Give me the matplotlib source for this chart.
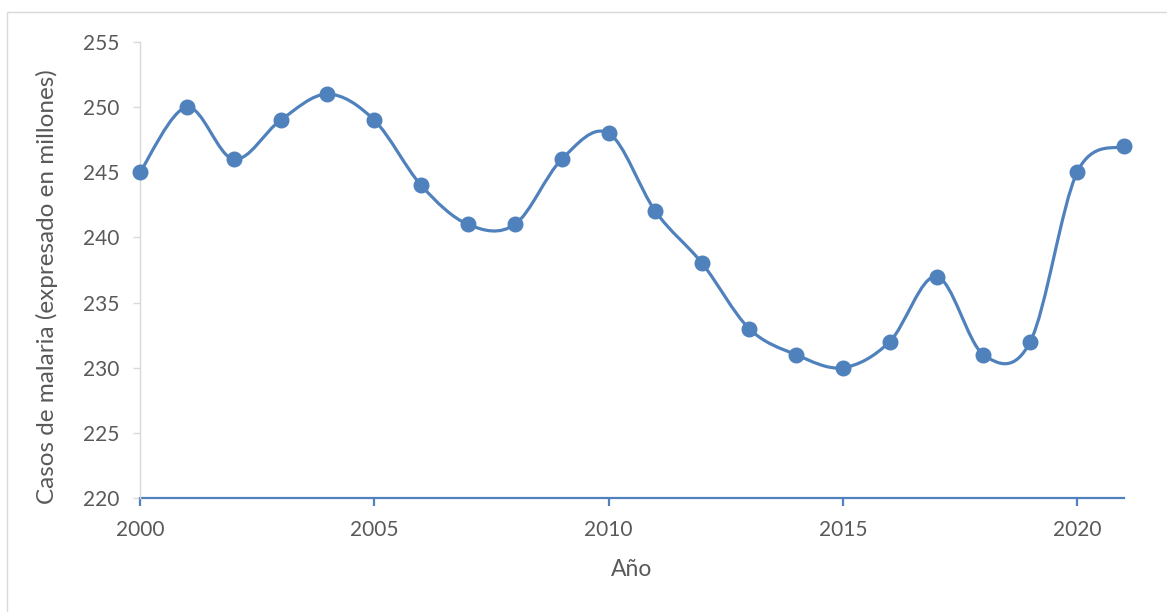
import matplotlib
matplotlib.use("Agg")
import matplotlib.pyplot as plt
from matplotlib.path import Path
from matplotlib.patches import PathPatch, Rectangle
import numpy as np

years = [2000, 2001, 2002, 2003, 2004, 2005, 2006, 2007, 2008, 2009, 2010,
         2011, 2012, 2013, 2014, 2015, 2016, 2017, 2018, 2019, 2020, 2021]
cases = [245, 250, 246, 249, 251, 249, 244, 241, 241, 246, 248,
         242, 238, 233, 231, 230, 232, 237, 231, 232, 245, 247]
y_ticks = [220, 225, 230, 235, 240, 245, 250, 255]
x_ticks = [2000, 2005, 2010, 2015, 2020]
x_label = "Año"
y_label = "Casos de malaria (expresado en millones)"

BLUE = "#4F81BD"
TEXT = "#595959"
GRID = "#D9D9D9"

plt.rcParams['font.family'] = ['Lato', 'DejaVu Sans']

W, H = 1167, 612
fig = plt.figure(figsize=(W / 100, H / 100), dpi=100)
fig.patches.append(Rectangle((7 / W, -0.01), 1159 / W - 7 / W + 0.01, 1 - 12 / H + 0.01,
                             transform=fig.transFigure, fill=False,
                             edgecolor=GRID, linewidth=1.0, zorder=0))

ax = fig.add_axes([140 / W, 1 - 498 / H, (1124 - 140) / W, (498 - 42) / H])

# Smoothed line through the points (cubic Bezier, Catmull-Rom style control points)
x = np.asarray(years, dtype=float)
y = np.asarray(cases, dtype=float)
n = len(x)
verts = [(x[0], y[0])]
codes = [Path.MOVETO]
t = 1.0 / 6.0
for i in range(n - 1):
    p0 = np.array([x[max(i - 1, 0)], y[max(i - 1, 0)]])
    p1 = np.array([x[i], y[i]])
    p2 = np.array([x[i + 1], y[i + 1]])
    p3 = np.array([x[min(i + 2, n - 1)], y[min(i + 2, n - 1)]])
    c1 = p1 + (p2 - p0) * t
    c2 = p2 - (p3 - p1) * t
    verts += [tuple(c1), tuple(c2), tuple(p2)]
    codes += [Path.CURVE4] * 3
ax.add_patch(PathPatch(Path(verts, codes), facecolor="none", edgecolor=BLUE,
                       linewidth=2.3, capstyle="round", joinstyle="round", zorder=3))
ax.plot(years, cases, linestyle="none", marker="o", markersize=10.5,
        color=BLUE, markeredgecolor=BLUE, zorder=4, clip_on=False)

ax.set_xlim(2000, 2021)
ax.set_ylim(220, 255)
ax.set_xticks(x_ticks)
ax.set_yticks(y_ticks)
ax.set_xticklabels([str(v) for v in x_ticks])
ax.set_yticklabels([str(v) for v in y_ticks])

for s in ["top", "right"]:
    ax.spines[s].set_visible(False)
ax.spines["left"].set_color(GRID)
ax.spines["left"].set_linewidth(1.0)
ax.spines["bottom"].set_color(BLUE)
ax.spines["bottom"].set_linewidth(1.6)
ax.spines["bottom"].set_zorder(2)

ax.tick_params(axis="y", direction="out", length=5, width=1.0, color=GRID,
               labelcolor=TEXT, labelsize=15, pad=10)
ax.tick_params(axis="x", direction="out", length=6, width=1.6, color=BLUE,
               labelcolor=TEXT, labelsize=15, pad=10)

ax.set_xlabel(x_label, color=TEXT, fontsize=16.5)
ax.set_ylabel(y_label, color=TEXT, fontsize=17.5)
# place axis titles by figure pixel position
ax.xaxis.set_label_coords(632 / W, 1 - 570 / H, transform=fig.transFigure)
ax.yaxis.set_label_coords(47 / W, 1 - 287 / H, transform=fig.transFigure)
ax.xaxis.label.set_va("center")
ax.yaxis.label.set_va("center")

fig.savefig("out.png", dpi=100)
